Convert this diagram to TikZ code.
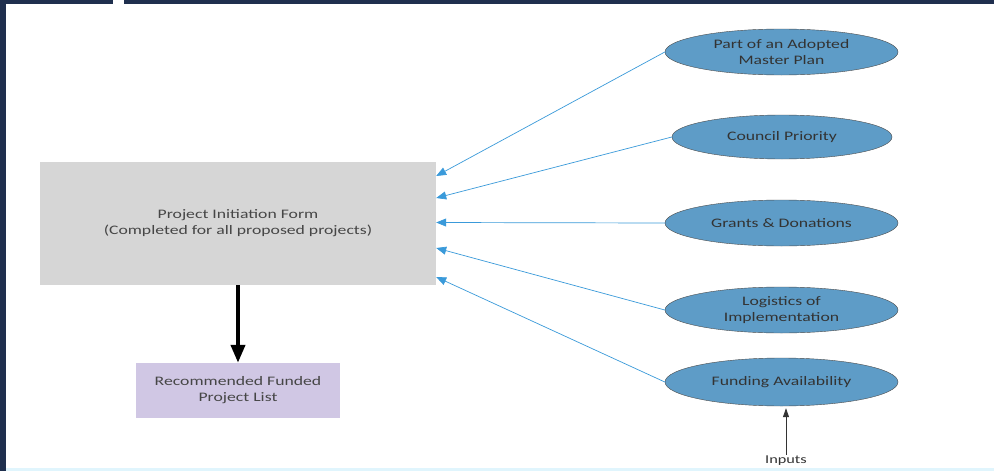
\documentclass[tikz,border=0pt]{standalone}
\usepackage{fontspec}
\setmainfont{Carlito}[FakeStretch=1.36]
\usetikzlibrary{arrows.meta,shapes.geometric,calc}

\definecolor{frameblue}{HTML}{1F2F4E}
\definecolor{formgray}{HTML}{D6D6D6}
\definecolor{listpurple}{HTML}{D0C7E4}
\definecolor{inputblue}{HTML}{5E9CC7}
\definecolor{arrowblue}{HTML}{3A9ADA}
\definecolor{textgray}{HTML}{464646}

\tikzset{
    inputnode/.style={ellipse, draw=black!70, fill=inputblue, text=black!80,
        minimum width=233pt, minimum height=46pt, inner sep=0pt,
        align=center, font=\fontsize{13}{16}\selectfont},
    feeds/.style={arrowblue, line width=0.7pt, -{Triangle[length=10pt,width=8pt]}},
}

\begin{document}
\begin{tikzpicture}[x=1pt, y=-1pt]

% ========== 背景与边框 ==========
\useasboundingbox (0,0) rectangle (994,471);
\fill[white] (0,0) rectangle (994,471);
\fill[frameblue] (0,0) rectangle (113,3.5);
\fill[frameblue] (124,0) rectangle (994,3.5);
\fill[frameblue] (0,0) rectangle (6,471);
\fill[cyan!12] (6,468) rectangle (994,471);

% ========== 左侧：表单与结果 ==========
\node[fill=formgray, minimum width=396pt, minimum height=123pt, inner sep=0pt,
      align=center, text=textgray, font=\fontsize{13}{16}\selectfont]
    (pif) at (238,223.5) {Project Initiation Form\\(Completed for all proposed projects)};
\node[fill=listpurple, minimum width=204pt, minimum height=55pt, inner sep=0pt,
      align=center, text=textgray, font=\fontsize{13}{16}\selectfont]
    (list) at (238,390.5) {Recommended Funded\\Project List};

\draw[line width=4pt, -{Triangle[length=18pt,width=14pt]}] (pif.south) -- (list.north);

% ========== 右侧：输入椭圆 ==========
\node[inputnode] (plan)    at (781.5,52)  {Part of an Adopted\\Master Plan};
\node[inputnode, minimum width=220pt, minimum height=44pt] (council) at (782,137) {Council Priority};
\node[inputnode] (grants)  at (781.5,223) {Grants \& Donations};
\node[inputnode] (logist)  at (781.5,310) {Logistics of\\Implementation};
\node[inputnode, minimum height=48pt] (fund) at (781.5,382) {Funding Availability};

% 箭头指向表单右侧
\draw[feeds] (plan.west)    -- ([yshift=47.5pt]pif.east);
\draw[feeds] (council.west) -- ([yshift=25.5pt]pif.east);
\draw[feeds] (grants.west)  -- ([yshift=1pt]pif.east);
\draw[feeds] (logist.west)  -- ([yshift=-24.5pt]pif.east);
\draw[feeds] (fund.west)    -- ([yshift=-53.5pt]pif.east);

% 底部说明
\node[text=black!80, inner sep=1pt, font=\fontsize{12}{14}\selectfont] (inputs) at (786,461) {Inputs};
\draw[black!80, line width=0.8pt, -{Triangle[length=9pt,width=6pt]}]
    (inputs.north) -- ([yshift=-2pt]inputs.north |- fund.south);

\end{tikzpicture}
\end{document}
